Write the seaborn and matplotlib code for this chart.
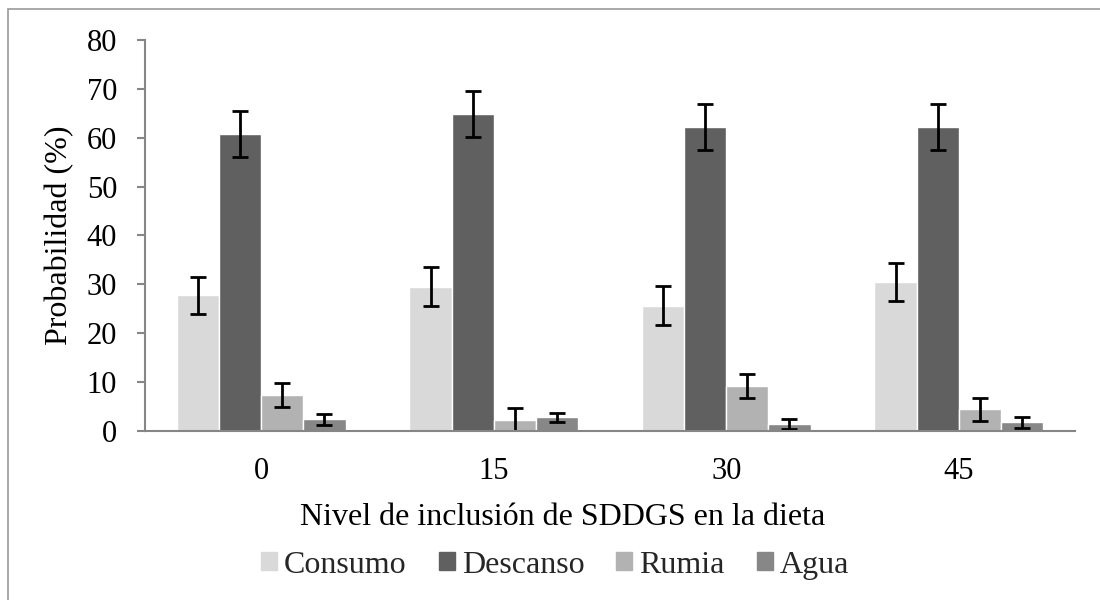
import pandas as pd
import seaborn as sns
import matplotlib.pyplot as plt
import matplotlib.patches as mpatches
import numpy as np

niveles = ["0", "15", "30", "45"]
conductas = ["Consumo", "Descanso", "Rumia", "Agua"]
consumo = [27.8, 29.5, 25.6, 30.4]
descanso = [60.7, 64.9, 62.2, 62.2]
rumia = [7.4, 2.3, 9.2, 4.4]
agua = [2.4, 2.8, 1.4, 1.8]
err_consumo = [3.8, 4.0, 4.0, 3.9]
err_descanso = [4.7, 4.7, 4.8, 4.8]
err_rumia = [2.4, 2.4, 2.4, 2.4]
err_agua = [1.1, 0.9, 1.0, 1.1]

colores = ["#d9d9d9", "#606060", "#b2b2b2", "#878787"]

rows = []
for cond, vals, errs in zip(conductas, [consumo, descanso, rumia, agua],
                            [err_consumo, err_descanso, err_rumia, err_agua]):
    for n, v, e in zip(niveles, vals, errs):
        rows.append({"Nivel": n, "Conducta": cond, "Prob": v, "err": e})
df = pd.DataFrame(rows)

sns.set_theme(style="white")
plt.rcParams['font.family'] = ['Liberation Serif', 'DejaVu Serif']

fig = plt.figure(figsize=(11, 6), dpi=100)
ax = fig.add_axes([0.1318, 0.2817, 0.8455, 0.6517])

ax = sns.barplot(data=df, x="Nivel", y="Prob", hue="Conducta", order=niveles,
                 hue_order=conductas, palette=colores, width=0.725,
                 saturation=1, errorbar=None, ax=ax)

# error bars on each bar
for cont, cond in zip(ax.containers, conductas):
    sub = df[df["Conducta"] == cond].set_index("Nivel").loc[niveles]
    xs = [p.get_x() + p.get_width() / 2 for p in cont.patches]
    ax.errorbar(xs, sub["Prob"], yerr=sub["err"], fmt="none", ecolor="black",
                elinewidth=2, capsize=5.5, capthick=2)

ax.set_ylim(0, 80)
ax.set_xlim(-0.5, 3.5)
ax.set_yticks(range(0, 81, 10))
ax.set_xticks(np.arange(-0.5, 3.6, 1), minor=True)
ax.tick_params(axis="x", which="major", length=0, labelsize=22, pad=19)
ax.tick_params(axis="x", which="minor", length=6, width=1.5, color="#868686", direction="out")
ax.tick_params(axis="y", length=6, width=1.5, color="#868686", direction="out",
               labelsize=22, left=True, pad=14)
for lab in ax.get_yticklabels() + ax.get_xticklabels():
    lab.set_color("black")

sns.despine(ax=ax)
for s in ["left", "bottom"]:
    ax.spines[s].set_color("#868686")
    ax.spines[s].set_linewidth(1.5)

ax.set_ylabel("Probabilidad (%)", fontsize=23, color="black", va="center")
ax.yaxis.set_label_coords(-0.0914, 0.5)
ax.set_xlabel("Nivel de inclusión de SDDGS en la dieta", fontsize=23, color="black",
              va="center")
ax.xaxis.set_label_coords(0.449, -0.222)

ax.legend_.remove()
handles = [mpatches.Patch(color=c) for c in colores]
fig.legend(handles, conductas, loc="center", bbox_to_anchor=(555 / 1100, 0.058), ncol=4,
           frameon=False, fontsize=23, handlelength=0.5, handleheight=0.5,
           handletextpad=0.22, columnspacing=1.0, borderpad=0)

fig.patches.append(mpatches.Rectangle((8 / 1100, -0.1), 1.2, 1 - 9 / 600 + 0.1,
                                      transform=fig.transFigure, fill=False,
                                      edgecolor="#999999", linewidth=1.2))

plt.savefig("out.png", dpi=100)
